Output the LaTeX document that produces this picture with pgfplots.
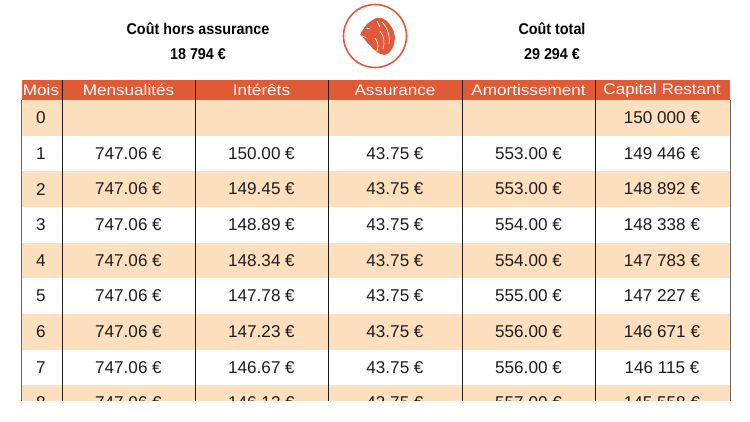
\documentclass[border=0pt]{standalone}
\usepackage{pgfplots}
\pgfplotsset{compat=1.18}
\usepackage{pgfplotstable}
\usepackage{fontspec}
\setmainfont{Liberation Sans}
\newfontfamily\bodyfont{Liberation Sans}
\newfontfamily\headfont{Liberation Sans}[FakeStretch=1.12]
\newfontfamily\titlefont{Liberation Sans}[FakeStretch=0.92]
\definecolor{hdr}{HTML}{E15A36}
\definecolor{band}{HTML}{FFE0BE}
\definecolor{lion}{HTML}{E05A3A}
\definecolor{ink}{HTML}{1C1C1C}

\pgfplotstableread[col sep=semicolon]{
row;mens;int;ass;amort;cap
0;;;;;150 000 €
1;747.06 €;150.00 €;43.75 €;553.00 €;149 446 €
2;747.06 €;149.45 €;43.75 €;553.00 €;148 892 €
3;747.06 €;148.89 €;43.75 €;554.00 €;148 338 €
4;747.06 €;148.34 €;43.75 €;554.00 €;147 783 €
5;747.06 €;147.78 €;43.75 €;555.00 €;147 227 €
6;747.06 €;147.23 €;43.75 €;556.00 €;146 671 €
7;747.06 €;146.67 €;43.75 €;556.00 €;146 115 €
8;747.06 €;146.12 €;43.75 €;557.00 €;145 558 €
}\amort

\pgfplotstableread[col sep=semicolon]{
x;label
41;Mois
128.5;Mensualités
261.5;Intérêts
395;Assurance
528.5;Amortissement
662;Capital Restant
}\heads

\pgfplotstableread[col sep=semicolon]{
x;y;label
198;29;Coût hors assurance
198;54;18 794 €
552;29;Coût total
552;54;29 294 €
}\titles

\begin{document}
\begin{tikzpicture}
\pgfplotsset{
  canvas/.style={width=750pt, height=422pt, scale only axis,
    xmin=0, xmax=750, ymin=0, ymax=422, y dir=reverse,
    hide axis, clip=false, at={(0,0)}, anchor=north west},
  cell/.style={draw=none, mark=none, nodes near coords,
    point meta=explicit symbolic,
    every node near coord/.append style={anchor=center, inner sep=0pt,
      font=\bodyfont\fontsize{17.1}{20}\selectfont, text=ink}},
}
% ---------- table ----------
\begin{axis}[canvas]
  % header band
  \addplot[fill=hdr, draw=none] coordinates {(21.5,80) (730,80) (730,100) (21.5,100)} --cycle;
  % alternating bands (rows 0,2,4,6,8)
  \addplot[fill=band, draw=none] coordinates {(21.5,100) (730,100) (730,135.65) (21.5,135.65)} --cycle;
  \addplot[fill=band, draw=none] coordinates {(21.5,171.3) (730,171.3) (730,206.95) (21.5,206.95)} --cycle;
  \addplot[fill=band, draw=none] coordinates {(21.5,242.6) (730,242.6) (730,278.25) (21.5,278.25)} --cycle;
  \addplot[fill=band, draw=none] coordinates {(21.5,313.9) (730,313.9) (730,349.55) (21.5,349.55)} --cycle;
  \addplot[fill=band, draw=none] coordinates {(21.5,385.2) (730,385.2) (730,420.85) (21.5,420.85)} --cycle;
  % vertical rules
  \addplot[ink, line width=0.9pt] coordinates {(62,80) (62,401)};
  \addplot[ink, line width=0.9pt] coordinates {(195,80) (195,401)};
  \addplot[ink, line width=0.9pt] coordinates {(328,80) (328,401)};
  \addplot[ink, line width=0.9pt] coordinates {(462,80) (462,401)};
  \addplot[ink, line width=0.9pt] coordinates {(595,80) (595,401)};
  \addplot[black!60, line width=0.7pt] coordinates {(21.5,100) (21.5,401)};
  \addplot[black!60, line width=0.7pt] coordinates {(730,100) (730,401)};
  % header labels
  \addplot[cell, every node near coord/.append style={text=white,
      font=\headfont\fontsize{15.3}{18}\selectfont}]
    table[x=x, y expr=90.3, meta=label] {\heads};
  % body
  \addplot[cell] table[x expr=41,    y expr=117.8+35.65*\thisrow{row}, meta=row]   {\amort};
  \addplot[cell] table[x expr=128.5, y expr=117.8+35.65*\thisrow{row}, meta=mens]  {\amort};
  \addplot[cell] table[x expr=261.5, y expr=117.8+35.65*\thisrow{row}, meta=int]   {\amort};
  \addplot[cell] table[x expr=395,   y expr=117.8+35.65*\thisrow{row}, meta=ass]   {\amort};
  \addplot[cell] table[x expr=528.5, y expr=117.8+35.65*\thisrow{row}, meta=amort] {\amort};
  \addplot[cell] table[x expr=662,   y expr=117.8+35.65*\thisrow{row}, meta=cap]   {\amort};
\end{axis}
% ---------- overlay: cut-off, titles, logo ----------
\begin{axis}[canvas, name=main]
  \fill[white] (axis cs:0,401) rectangle (axis cs:750,422);
  \addplot[cell, every node near coord/.append style={
      font=\titlefont\bfseries\fontsize{15.6}{18}\selectfont, text=black}]
    table[x=x, y=y, meta=label] {\titles};
  \draw[lion, line width=1.6pt] (axis cs:375,36) circle[radius=31.5pt];
  \fill[lion, rounded corners=1pt] (axis cs:371,21) -- (axis cs:367,24) -- (axis cs:364,28)
    -- (axis cs:362,31) -- (axis cs:360,34) -- (axis cs:361,36) -- (axis cs:363,37)
    -- (axis cs:364,39) -- (axis cs:366,41) -- (axis cs:367,43) -- (axis cs:370,45)
    -- (axis cs:372,48) -- (axis cs:376,51) -- (axis cs:380,54) -- (axis cs:385,55)
    -- (axis cs:389,53) -- (axis cs:392,49) -- (axis cs:394,44) -- (axis cs:395,38)
    -- (axis cs:394,32) -- (axis cs:391,26) -- (axis cs:387,21) -- (axis cs:382,18)
    -- (axis cs:376,18) -- cycle;
  \draw[white, line width=0.8pt] (axis cs:366.5,28) -- (axis cs:370,29);
  \draw[white, line width=0.6pt] (axis cs:362,36) -- (axis cs:366,37.5);
  \draw[white, line width=0.7pt] (axis cs:377,21) -- (axis cs:380,27);
  \draw[white, line width=0.7pt] (axis cs:382,22) .. controls (axis cs:388,28) and (axis cs:390,36) .. (axis cs:389,44);
  \draw[white, line width=0.7pt] (axis cs:380,31) .. controls (axis cs:384,36) and (axis cs:385,42) .. (axis cs:383,49);
  \draw[white, line width=0.7pt] (axis cs:375,38) .. controls (axis cs:378,42) and (axis cs:379,46) .. (axis cs:377,51);
\end{axis}
\path[use as bounding box] (main.north west) rectangle (main.south east);
\end{tikzpicture}
\end{document}
